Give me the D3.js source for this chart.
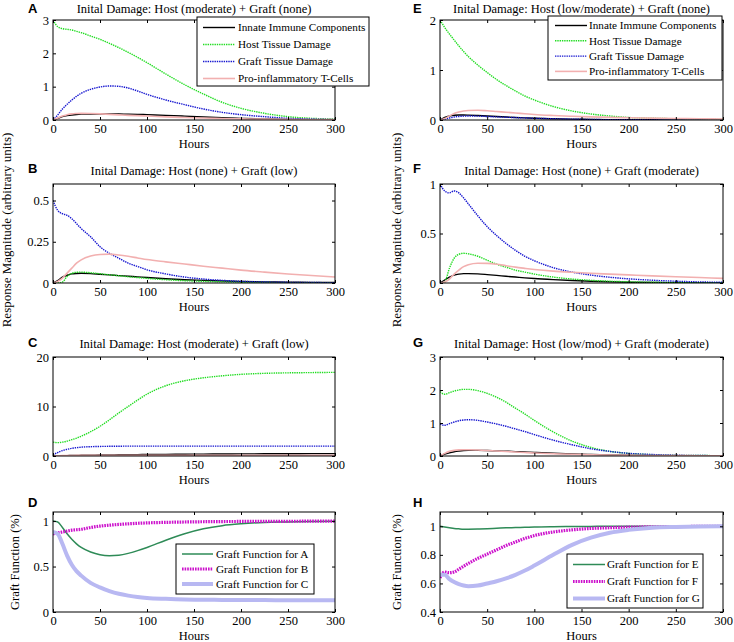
<!DOCTYPE html>
<html><head><meta charset="utf-8">
<script src="https://cdn.jsdelivr.net/npm/d3@7"></script>
<style>
body{margin:0;background:#fff;}
svg text{font-family:"Liberation Serif","Times New Roman",Times,serif;}
</style></head>
<body><svg id="c" width="734" height="642"></svg>
<script>
// ---------- DATA ----------
const hours = [0,5,10,15,20,25,30,40,50,60,70,80,90,100,120,140,160,180,200,225,250,275,300];
const xTicks = [0,50,100,150,200,250,300];

const responseLabels = ["Innate Immune Components","Host Tissue Damage","Graft Tissue Damage","Pro-inflammatory T-Cells"];

// Panel A
const aInnate = [0,0.05,0.1,0.13,0.15,0.165,0.175,0.18,0.18,0.18,0.178,0.175,0.17,0.16,0.14,0.115,0.09,0.068,0.05,0.032,0.02,0.012,0.008];
const aHost   = [3.0,2.8,2.74,2.72,2.7,2.66,2.62,2.52,2.42,2.3,2.17,2.03,1.88,1.72,1.38,1.06,0.78,0.53,0.35,0.2,0.1,0.05,0.03];
const aGraft  = [0,0.15,0.33,0.47,0.6,0.71,0.8,0.92,0.99,1.02,1.01,0.96,0.87,0.77,0.6,0.46,0.33,0.23,0.16,0.1,0.05,0.03,0.015];
const aTcell  = [0,0.06,0.12,0.16,0.185,0.195,0.2,0.195,0.185,0.17,0.155,0.14,0.13,0.12,0.095,0.075,0.058,0.045,0.035,0.025,0.018,0.013,0.01];
// Panel B
const bInnate = [0,0.015,0.035,0.047,0.055,0.058,0.059,0.057,0.053,0.049,0.045,0.041,0.037,0.033,0.026,0.02,0.016,0.012,0.009,0.007,0.005,0.004,0.003];
const bHost   = [0,0,0.005,0.04,0.058,0.065,0.066,0.062,0.056,0.05,0.044,0.038,0.033,0.028,0.02,0.014,0.01,0.007,0.005,0.003,0.002,0.0015,0.001];
const bGraft  = [0.5,0.44,0.42,0.41,0.39,0.36,0.33,0.28,0.22,0.18,0.15,0.12,0.1,0.08,0.055,0.036,0.024,0.016,0.01,0.006,0.004,0.003,0.002];
const bTcell  = [0,0.01,0.03,0.06,0.09,0.12,0.14,0.163,0.173,0.175,0.17,0.162,0.152,0.142,0.128,0.115,0.102,0.09,0.078,0.066,0.055,0.045,0.036];
// Panel C
const cInnate = [0,0.02,0.05,0.08,0.1,0.12,0.14,0.17,0.2,0.22,0.24,0.26,0.28,0.3,0.33,0.36,0.38,0.4,0.42,0.44,0.46,0.47,0.48];
const cHost   = [2.8,2.7,2.8,3.0,3.3,3.6,4.0,4.9,6.0,7.3,8.7,10.0,11.3,12.5,14.2,15.2,15.8,16.2,16.5,16.7,16.8,16.85,16.9];
const cGraft  = [0.2,0.7,1.1,1.35,1.55,1.68,1.78,1.88,1.93,1.96,1.98,1.99,2.0,2.0,2.0,2.0,2.0,2.0,2.0,2.0,2.0,2.0,2.0];
const cTcell  = [0,0.04,0.08,0.1,0.11,0.12,0.12,0.12,0.12,0.12,0.12,0.12,0.12,0.12,0.12,0.12,0.12,0.12,0.12,0.12,0.12,0.12,0.12];
// Panel E
const eInnate = [0,0.05,0.08,0.095,0.1,0.1,0.098,0.09,0.08,0.07,0.06,0.05,0.042,0.035,0.025,0.017,0.012,0.008,0.006,0.004,0.003,0.002,0.002];
const eHost   = [2.0,1.85,1.72,1.6,1.48,1.37,1.27,1.1,0.95,0.81,0.69,0.58,0.48,0.4,0.27,0.18,0.12,0.08,0.05,0.035,0.025,0.018,0.012];
const eGraft  = [0,0.02,0.04,0.06,0.07,0.077,0.08,0.078,0.07,0.062,0.055,0.048,0.041,0.035,0.025,0.017,0.011,0.007,0.005,0.003,0.002,0.001,0.001];
const eTcell  = [0,0.03,0.08,0.13,0.16,0.18,0.19,0.195,0.185,0.17,0.155,0.14,0.125,0.11,0.09,0.075,0.062,0.052,0.045,0.037,0.03,0.025,0.02];
// Panel F
const fInnate = [0,0.03,0.06,0.08,0.09,0.095,0.095,0.092,0.085,0.077,0.068,0.06,0.052,0.045,0.034,0.025,0.018,0.012,0.008,0.005,0.004,0.003,0.002];
const fHost   = [0,0.01,0.15,0.25,0.29,0.3,0.295,0.27,0.23,0.19,0.16,0.13,0.11,0.09,0.06,0.04,0.027,0.018,0.012,0.008,0.005,0.003,0.002];
const fGraft  = [1.0,0.93,0.91,0.93,0.91,0.86,0.8,0.68,0.57,0.48,0.4,0.33,0.27,0.225,0.155,0.11,0.08,0.058,0.042,0.028,0.018,0.011,0.007];
const fTcell  = [0,0.01,0.04,0.09,0.13,0.165,0.185,0.2,0.198,0.19,0.175,0.16,0.148,0.137,0.12,0.108,0.098,0.09,0.082,0.072,0.063,0.055,0.047];
// Panel G
const gInnate = [0,0.06,0.1,0.13,0.15,0.165,0.17,0.17,0.165,0.155,0.145,0.133,0.12,0.108,0.085,0.065,0.048,0.035,0.025,0.016,0.01,0.007,0.005];
const gHost   = [1.95,1.87,1.92,1.97,2.0,2.02,2.02,1.98,1.9,1.78,1.63,1.45,1.27,1.08,0.73,0.45,0.26,0.14,0.08,0.04,0.02,0.015,0.01];
const gGraft  = [0.97,0.93,0.98,1.03,1.07,1.09,1.1,1.08,1.03,0.97,0.9,0.82,0.74,0.65,0.48,0.34,0.22,0.14,0.08,0.045,0.025,0.015,0.01];
const gTcell  = [0,0.08,0.14,0.17,0.185,0.19,0.19,0.18,0.165,0.15,0.135,0.12,0.105,0.092,0.07,0.052,0.04,0.03,0.022,0.016,0.012,0.009,0.007];
// Panel D
const dA = [1.0,0.99,0.93,0.86,0.8,0.75,0.71,0.66,0.63,0.62,0.625,0.645,0.675,0.71,0.79,0.86,0.915,0.95,0.97,0.985,0.99,0.995,0.997];
const dB = [0.86,0.87,0.88,0.89,0.9,0.905,0.91,0.93,0.945,0.955,0.963,0.97,0.976,0.98,0.986,0.99,0.993,0.995,0.996,0.997,0.998,0.999,1.0];
const dC = [0.88,0.86,0.75,0.62,0.52,0.45,0.4,0.32,0.27,0.23,0.2,0.18,0.165,0.155,0.145,0.138,0.135,0.133,0.132,0.131,0.13,0.13,0.13];
// Panel H
const hE = [1.0,0.995,0.99,0.985,0.982,0.98,0.98,0.981,0.983,0.986,0.989,0.991,0.993,0.995,0.997,0.998,0.999,1.0,1.0,1.0,1.0,1.0,1.0];
const hF = [0.64,0.68,0.675,0.68,0.7,0.72,0.74,0.775,0.805,0.835,0.865,0.89,0.915,0.935,0.96,0.975,0.985,0.99,0.994,0.996,0.998,0.999,1.0];
const hG = [0.66,0.66,0.63,0.61,0.595,0.585,0.58,0.585,0.6,0.615,0.635,0.66,0.69,0.725,0.8,0.87,0.92,0.955,0.975,0.99,0.995,0.998,1.0];

// Titles & ticks
const titles = {
  A:"Inital Damage: Host (moderate) + Graft (none)",
  B:"Inital Damage: Host (none) + Graft (low)",
  C:"Inital Damage: Host (moderate) + Graft (low)",
  E:"Inital Damage: Host (low/moderate) + Graft (none)",
  F:"Inital Damage: Host (none) + Graft (moderate)",
  G:"Inital Damage: Host (low/mod) + Graft (moderate)"
};
const yTicksA = [0,1,2,3], yTicksB = [0,0.25,0.5], yTicksC = [0,10,20], yTicksD = [0,0.5,1];
const yTicksE = [0,1,2], yTicksF = [0,0.5,1], yTicksG = [0,1,2,3], yTicksH = [0.4,0.6,0.8,1];
const gfLabelsLeft = ["Graft Function for A","Graft Function for B","Graft Function for C"];
const gfLabelsRight = ["Graft Function for E","Graft Function for F","Graft Function for G"];

// ---------- STYLES ----------
const SERIF = "'Liberation Serif','Times New Roman',Times,serif";
const respStyles = [
  {stroke:"#000000", width:1.4, dash:null},
  {stroke:"#22dd22", width:1.4, dash:"1.4,0.9"},
  {stroke:"#1515d0", width:1.4, dash:"1.4,0.9"},
  {stroke:"#f2b0b0", width:1.6, dash:null}
];
const gfStyles = [
  {stroke:"#2e8b57", width:1.5, dash:null},
  {stroke:"#cc11cc", width:3.2, dash:"1.6,1"},
  {stroke:"#b8b8f2", width:4, dash:null}
];

// ---------- LAYOUT ----------
const colX = [[53,335],[440,723]];
const rowY = [[20,120],[184,283],[357,456],[512,612]];

const panels = [
  {letter:"A", col:0,row:0, dom:[0,3],   ticks:yTicksA, series:[aInnate,aHost,aGraft,aTcell], styles:respStyles, title:titles.A,
   legend:{labels:responseLabels, x:197, y:17, w:172, h:69, first:10.5, step:17, s0:6, s1:38, tx:41}},
  {letter:"B", col:0,row:1, dom:[0,0.6], ticks:yTicksB, series:[bInnate,bHost,bGraft,bTcell], styles:respStyles, title:titles.B},
  {letter:"C", col:0,row:2, dom:[0,20],  ticks:yTicksC, series:[cInnate,cHost,cGraft,cTcell], styles:respStyles, title:titles.C},
  {letter:"D", col:0,row:3, dom:[0,1.1], ticks:yTicksD, series:[dA,dB,dC], styles:gfStyles, title:null,
   legend:{labels:gfLabelsLeft, x:176, y:544, w:138, h:50, first:10, step:15, s0:6, s1:37, tx:40}},
  {letter:"E", col:1,row:0, dom:[0,2],   ticks:yTicksE, series:[eInnate,eHost,eGraft,eTcell], styles:respStyles, title:titles.E,
   legend:{labels:responseLabels, x:548, y:16, w:174, h:64, first:9.5, step:15.3, s0:7, s1:39, tx:41}},
  {letter:"F", col:1,row:1, dom:[0,1],   ticks:yTicksF, series:[fInnate,fHost,fGraft,fTcell], styles:respStyles, title:titles.F},
  {letter:"G", col:1,row:2, dom:[0,3],   ticks:yTicksG, series:[gInnate,gHost,gGraft,gTcell], styles:respStyles, title:titles.G},
  {letter:"H", col:1,row:3, dom:[0.4,1.1], ticks:yTicksH, series:[hE,hF,hG], styles:gfStyles, title:null,
   legend:{labels:gfLabelsRight, x:567, y:554, w:136, h:54, first:10.5, step:17, s0:6, s1:38, tx:40}}
];

const svg = d3.select("#c");
const FS = 12.5, LFS = 11.2;

panels.forEach(p=>{
  const [x0,x1] = colX[p.col], [y0,y1] = rowY[p.row];
  const x = d3.scaleLinear().domain([0,300]).range([x0,x1]);
  const y = d3.scaleLinear().domain(p.dom).range([y1,y0]);
  const g = svg.append("g");

  const clipId = "clip"+p.letter;
  svg.append("clipPath").attr("id",clipId).append("rect")
    .attr("x",x0).attr("y",y0).attr("width",x1-x0).attr("height",y1-y0);
  const line = d3.line().x((d,i)=>x(hours[i])).y(d=>y(d)).curve(d3.curveMonotoneX);
  const lg = g.append("g").attr("clip-path",`url(#${clipId})`);
  p.series.forEach((s,i)=>{
    const st = p.styles[i];
    lg.append("path").datum(s).attr("d",line).attr("fill","none")
      .attr("stroke",st.stroke).attr("stroke-width",st.width)
      .attr("stroke-dasharray",st.dash);
  });

  const fmt = d=>String(d);
  const ax = g.append("g").attr("transform",`translate(0,${y1})`)
    .call(d3.axisBottom(x).tickValues(xTicks).tickFormat(fmt).tickSizeInner(-3).tickSizeOuter(0).tickPadding(4));
  const axt = g.append("g").attr("transform",`translate(0,${y0})`)
    .call(d3.axisTop(x).tickValues(xTicks).tickFormat("").tickSizeInner(-3).tickSizeOuter(0));
  const ay = g.append("g").attr("transform",`translate(${x0},0)`)
    .call(d3.axisLeft(y).tickValues(p.ticks).tickFormat(fmt).tickSizeInner(-3).tickSizeOuter(0).tickPadding(4));
  const ayr = g.append("g").attr("transform",`translate(${x1},0)`)
    .call(d3.axisRight(y).tickValues(p.ticks).tickFormat("").tickSizeInner(-3).tickSizeOuter(0));
  [ax,axt,ay,ayr].forEach(a=>{
    a.attr("font-family",null).attr("font-size",null);
    a.select(".domain").remove();
    a.selectAll("line").attr("stroke","#000");
    a.selectAll("text").style("font-family",SERIF).style("font-size",FS+"px").attr("fill","#000");
  });
  g.append("rect").attr("x",x0).attr("y",y0).attr("width",x1-x0).attr("height",y1-y0)
    .attr("fill","none").attr("stroke","#000").attr("stroke-width",1);

  g.append("text").attr("x",(x0+x1)/2).attr("y",y1+28).attr("text-anchor","middle")
    .style("font-family",SERIF).style("font-size",FS+"px").text("Hours");
  if(p.title) g.append("text").attr("x",(x0+x1)/2).attr("y",p.row===0?13:y0-9)
    .attr("text-anchor","middle").style("font-family",SERIF).style("font-size",FS+"px").text(p.title);
  const ly = [13,173,347,507][p.row];
  g.append("text").attr("x",p.col===0?28:413).attr("y",ly)
    .style("font-family","'Liberation Sans',Arial,sans-serif").style("font-weight","bold")
    .style("font-size","13px").text(p.letter);

  if(p.legend){
    const L = p.legend;
    const lgd = g.append("g").attr("transform",`translate(${L.x},${L.y})`);
    lgd.append("rect").attr("width",L.w).attr("height",L.h).attr("fill","#fff")
      .attr("stroke","#000").attr("stroke-width",1);
    L.labels.forEach((t,i)=>{
      const cy = L.first + i*L.step;
      const st = p.styles[i];
      lgd.append("line").attr("x1",L.s0).attr("x2",L.s1).attr("y1",cy).attr("y2",cy)
        .attr("stroke",st.stroke).attr("stroke-width",st.width).attr("stroke-dasharray",st.dash);
      lgd.append("text").attr("x",L.tx).attr("y",cy).attr("dy","0.35em")
        .style("font-family",SERIF).style("font-size",LFS+"px").text(t);
    });
  }
});

const ylab = [
  {x:11, y:230, t:"Response Magnitude (arbitrary units)", fs:13},
  {x:401, y:230, t:"Response Magnitude (arbitrary units)", fs:13},
  {x:19, y:562, t:"Graft Function (%)", fs:FS},
  {x:401, y:562, t:"Graft Function (%)", fs:FS}
];
ylab.forEach(l=>{
  svg.append("text").attr("transform",`translate(${l.x},${l.y}) rotate(-90)`)
    .attr("text-anchor","middle").style("font-family",SERIF).style("font-size",l.fs+"px").text(l.t);
});
</script>
</body></html>
